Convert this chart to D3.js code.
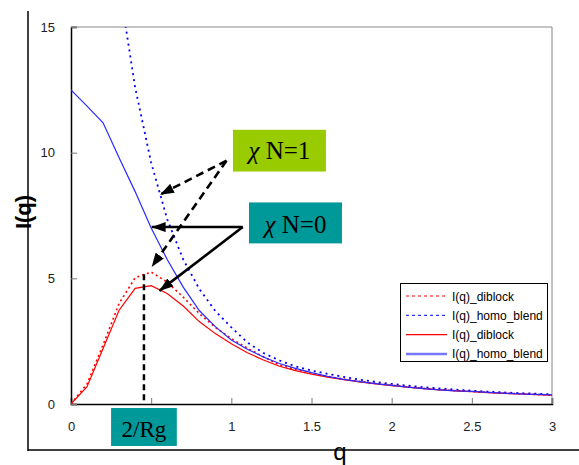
<!DOCTYPE html>
<html lang="en">
<head>
	<meta charset="utf-8">
	<title>I(q) diblock vs homo blend</title>
	<script src="https://d3js.org/d3.v7.min.js"></script>
	<style>
		body { margin: 0; background: #fff; }
		.tick-label { font-family: "Liberation Sans", Arial, sans-serif; font-size: 13px; fill: #222; }
		.legend text { font-family: "Liberation Sans", Arial, sans-serif; font-size: 12px; fill: #000; }
		.note { font-family: "Liberation Serif", "Times New Roman", serif; fill: #000; }
	</style>
</head>
<body>
	<div id="chart"></div>

	<script>
		// data
		var qValues = [0, 0.1, 0.2, 0.3, 0.4, 0.5, 0.6, 0.7, 0.8, 0.9, 1.0,
			1.1, 1.2, 1.3, 1.4, 1.5, 1.6, 1.7, 1.8, 1.9, 2.0,
			2.1, 2.2, 2.3, 2.4, 2.5, 2.6, 2.7, 2.8, 2.9, 3.0];

		// chi N = 1 (dotted)
		var diblockChi1 = [0, 0.8, 2.35, 4.0, 5.02, 5.25, 4.85, 4.25, 3.6, 3.05, 2.6,
			2.22, 1.88, 1.55, 1.38, 1.23, 1.1, 0.99, 0.9, 0.82, 0.75,
			0.68, 0.62, 0.57, 0.53, 0.5, 0.46, 0.43, 0.41, 0.38, 0.36];
		var homoChi1 = [null, null, null, 16.7, 12.6, 9.6, 7.35, 5.75, 4.58, 3.7, 3.05,
			2.45, 2.03, 1.73, 1.5, 1.33, 1.2, 1.08, 0.97, 0.88, 0.8,
			0.73, 0.67, 0.62, 0.57, 0.53, 0.49, 0.46, 0.43, 0.41, 0.38];

		// chi N = 0 (solid)
		var diblockChi0 = [0, 0.69, 2.21, 3.73, 4.6, 4.71, 4.4, 3.9, 3.28, 2.8, 2.4,
			2.04, 1.75, 1.5, 1.33, 1.19, 1.07, 0.97, 0.88, 0.8, 0.73,
			0.67, 0.61, 0.56, 0.52, 0.49, 0.45, 0.42, 0.4, 0.37, 0.35];
		var homoChi0 = [12.5, 11.85, 11.19, 9.8, 8.45, 7.0, 5.75, 4.65, 3.72, 3.08, 2.55,
			2.18, 1.87, 1.61, 1.42, 1.25, 1.1, 0.98, 0.89, 0.81, 0.74,
			0.67, 0.61, 0.56, 0.52, 0.5, 0.46, 0.43, 0.4, 0.38, 0.36];

		var xTicks = [0, 0.5, 1, 1.5, 2, 2.5, 3];
		var xTickLabels = ["0", "", "1", "1.5", "2", "2.5", "3"];
		var yTicks = [0, 5, 10, 15];

		var legendLabels = ["I(q)_diblock", "I(q)_homo_blend", "I(q)_diblock", "I(q)_homo_blend"];

		var rgQ = 0.455;   // position of the 2/Rg marker

		var w = 579, h = 465;
		var pLeft = 71, pRight = 552, pTop = 27, pBottom = 404;

		var svg = d3.select("#chart").append("svg")
			.attr("width", w).attr("height", h);

		var x = d3.scaleLinear().domain([0, 3]).range([pLeft, pRight]);
		var y = d3.scaleLinear().domain([0, 15]).range([pBottom, pTop]);

		var defs = svg.append("defs");
		defs.append("clipPath").attr("id", "plot")
			.append("rect")
			.attr("x", pLeft).attr("y", pTop)
			.attr("width", pRight - pLeft).attr("height", pBottom - pTop);
		defs.append("marker")
			.attr("id", "head")
			.attr("markerUnits", "userSpaceOnUse")
			.attr("viewBox", "0 0 14 10")
			.attr("refX", 14).attr("refY", 5)
			.attr("markerWidth", 14).attr("markerHeight", 10)
			.attr("orient", "auto")
			.append("path").attr("d", "M0,0 L14,5 L0,10 Z").attr("fill", "#000");

		// outer frame
		svg.append("line").attr("x1", 28).attr("x2", 28).attr("y1", 11).attr("y2", 451)
			.attr("stroke", "#000").attr("stroke-width", 1.5);
		svg.append("line").attr("x1", 28).attr("x2", w).attr("y1", 450).attr("y2", 450)
			.attr("stroke", "#000").attr("stroke-width", 1.5);

		// plot border
		svg.append("line").attr("x1", pLeft).attr("x2", pRight).attr("y1", pTop).attr("y2", pTop)
			.attr("stroke", "#888");
		svg.append("line").attr("x1", pRight).attr("x2", pRight).attr("y1", pTop).attr("y2", pBottom)
			.attr("stroke", "#888");

		// axes
		var xAxis = d3.axisBottom(x).tickValues(xTicks).tickSize(-6).tickFormat(function(d, i) { return xTickLabels[i]; }).tickPadding(18);
		var yAxis = d3.axisLeft(y).tickValues(yTicks).tickSize(-6).tickFormat(d3.format("d")).tickPadding(16);

		var gx = svg.append("g").attr("transform", "translate(0," + pBottom + ")").call(xAxis);
		var gy = svg.append("g").attr("transform", "translate(" + pLeft + ",0)").call(yAxis);
		[gx, gy].forEach(function(g) {
			g.select(".domain").attr("stroke", "#000").attr("stroke-width", 1.5);
			g.selectAll(".tick line").attr("stroke", "#777");
			g.selectAll(".tick text").attr("class", "tick-label");
		});
		gx.attr("font-size", null).attr("font-family", null);
		gy.attr("font-size", null).attr("font-family", null);

		svg.append("text")
			.attr("transform", "translate(31,212) rotate(-90)")
			.attr("text-anchor", "middle")
			.style("font-family", "Liberation Sans, Arial, sans-serif")
			.style("font-size", "22px")
			.style("font-weight", "bold")
			.text("I(q)");
		svg.append("text")
			.attr("x", 340).attr("y", 460)
			.attr("text-anchor", "middle")
			.style("font-family", "Liberation Sans, Arial, sans-serif")
			.style("font-size", "24px")
			.text("q");

		// curves
		var series = [
			{ values: diblockChi1, color: "#ff0000", width: 1.6, dash: "2,3" },
			{ values: homoChi1, color: "#0000ff", width: 1.8, dash: "2,4" },
			{ values: diblockChi0, color: "#ff0000", width: 1.2, dash: null },
			{ values: homoChi0, color: "#2a2aff", width: 1.2, dash: null }
		];

		var line = d3.line()
			.defined(function(d) { return d[1] !== null; })
			.x(function(d) { return x(d[0]); })
			.y(function(d) { return y(d[1]); });

		var curves = svg.append("g").attr("clip-path", "url(#plot)");
		curves.selectAll("path")
			.data(series)
			.enter()
			.append("path")
			.attr("d", function(s) { return line(qValues.map(function(q, i) { return [q, s.values[i]]; })); })
			.attr("fill", "none")
			.attr("stroke", function(s) { return s.color; })
			.attr("stroke-width", function(s) { return s.width; })
			.attr("stroke-dasharray", function(s) { return s.dash; });

		// 2/Rg marker
		svg.append("line")
			.attr("x1", x(rgQ)).attr("x2", x(rgQ))
			.attr("y1", y(5.16)).attr("y2", y(0))
			.attr("stroke", "#000").attr("stroke-width", 2.5).attr("stroke-dasharray", "6,4");

		// arrows
		var arrows = [
			{ from: [0.97, 9.68], to: [0.555, 8.33], dash: "8,5" },
			{ from: [0.97, 9.68], to: [0.503, 5.45], dash: "8,5" },
			{ from: [1.071, 7.04], to: [0.503, 7.04], dash: null },
			{ from: [1.071, 7.04], to: [0.551, 4.5], dash: null }
		];
		svg.selectAll(".arrow")
			.data(arrows)
			.enter()
			.append("line")
			.attr("class", "arrow")
			.attr("x1", function(d) { return x(d.from[0]); })
			.attr("y1", function(d) { return y(d.from[1]); })
			.attr("x2", function(d) { return x(d.to[0]); })
			.attr("y2", function(d) { return y(d.to[1]); })
			.attr("stroke", "#000")
			.attr("stroke-width", 2.6)
			.attr("stroke-dasharray", function(d) { return d.dash; })
			.attr("marker-end", "url(#head)");

		// label boxes
		var boxes = [
			{ x0: 1.01, x1: 1.59, y0: 10.91, y1: 9.25, fill: "#99cc00", text: "N=1", size: 25, base: 159, chi: true },
			{ x0: 1.11, x1: 1.69, y0: 8.02, y1: 6.39, fill: "#009999", text: "N=0", size: 25, base: 233, chi: true },
			{ x0: 0.25, x1: 0.66, y0: -0.16, y1: -1.67, fill: "#009999", text: "2/Rg", size: 23, base: 437, chi: false }
		];
		boxes.forEach(function(b) {
			svg.append("rect")
				.attr("x", x(b.x0)).attr("y", y(b.y0))
				.attr("width", x(b.x1) - x(b.x0)).attr("height", y(b.y1) - y(b.y0))
				.attr("fill", b.fill);
			var t = svg.append("text").attr("class", "note")
				.attr("x", (x(b.x0) + x(b.x1)) / 2).attr("y", b.base)
				.attr("text-anchor", "middle")
				.style("font-size", b.size + "px");
			if (b.chi) {
				t.append("tspan").style("font-style", "italic").text("\u03c7");
				t.append("tspan").text(" " + b.text);
			} else {
				t.text(b.text);
			}
		});

		// legend
		var legendStyle = [
			{ color: "#ff0000", width: 1, dash: "3,3" },
			{ color: "#0000ff", width: 1, dash: "3,3" },
			{ color: "#ff0000", width: 1.2, dash: null },
			{ color: "#7777ff", width: 2.5, dash: null }
		];
		var legend = svg.append("g").attr("class", "legend");
		legend.append("rect")
			.attr("x", 400.5).attr("y", 283.5).attr("width", 147).attr("height", 78)
			.attr("fill", "#fff").attr("stroke", "#000");
		var rows = legend.selectAll(".row")
			.data(legendLabels)
			.enter()
			.append("g")
			.attr("transform", function(d, i) { return "translate(0," + (296 + i * 19.3) + ")"; });
		rows.append("line")
			.attr("x1", 406).attr("x2", 447).attr("y1", 0).attr("y2", 0)
			.attr("stroke", function(d, i) { return legendStyle[i].color; })
			.attr("stroke-width", function(d, i) { return legendStyle[i].width; })
			.attr("stroke-dasharray", function(d, i) { return legendStyle[i].dash; });
		rows.append("text")
			.attr("x", 452).attr("y", 4.5)
			.text(function(d) { return d; });
	</script>
</body>
</html>
